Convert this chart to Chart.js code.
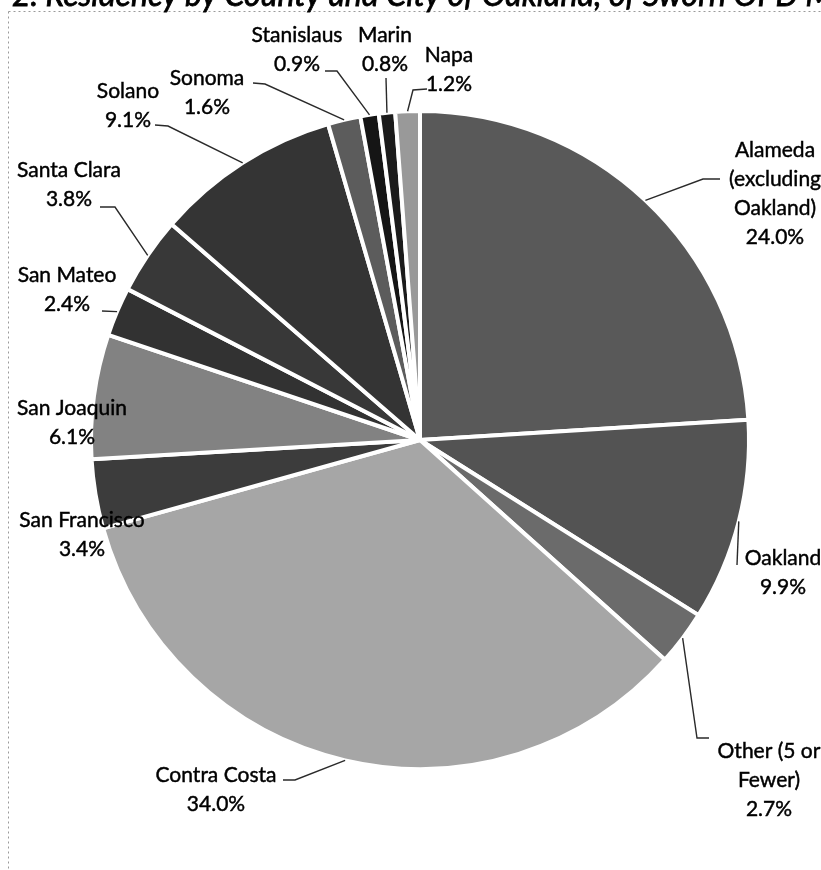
<!DOCTYPE html>
<html>
<head>
<meta charset="utf-8">
<script src="https://cdn.jsdelivr.net/npm/chart.js@4.4.1/dist/chart.umd.min.js"></script>
<style>
  html, body { margin: 0; padding: 0; background: #ffffff; }
  canvas { display: block; }
</style>
</head>
<body>
<canvas id="c" width="821" height="870"></canvas>
<script>
// ---- Data ----
const categories = [
  "Alameda (excluding Oakland)", "Oakland", "Other (5 or Fewer)", "Contra Costa",
  "San Francisco", "San Joaquin", "San Mateo", "Santa Clara", "Solano",
  "Sonoma", "Stanislaus", "Marin", "Napa"
];
const percentValues = [24.0, 9.9, 2.7, 34.0, 3.4, 6.1, 2.4, 3.8, 9.1, 1.6, 0.9, 0.8, 1.2];
const labelLines = [
  ["Alameda", "(excluding", "Oakland)"], ["Oakland"], ["Other (5 or", "Fewer)"], ["Contra Costa"],
  ["San Francisco"], ["San Joaquin"], ["San Mateo"], ["Santa Clara"], ["Solano"],
  ["Sonoma"], ["Stanislaus"], ["Marin"], ["Napa"]
];
const titleText = "2. Residency by County and City of Oakland, of Sworn OPD Members";

// ---- Styles / layout ----
const sliceColors = [
  "#595959", "#535353", "#6b6b6b", "#a6a6a6",
  "#3c3c3c", "#828282", "#323232", "#383838", "#343434",
  "#5c5c5c", "#151515", "#1b1b1b", "#999999"
];
// label text anchor (center x, first line center y)
const labelAnchors = [
  [775, 150], [783, 558], [769, 751], [216, 775],
  [82, 520], [72, 408], [67, 275], [69, 170], [128, 91],
  [207, 78], [297, 35], [385, 35], [449, 55]
];
// leader line points after the slice edge point
const leaderPaths = [
  [[703, 179], [720, 179]],
  [[737, 565]],
  [[697, 738], [709, 738]],
  [[295, 780], [283, 780]],
  [],
  [],
  [[102, 311]],
  [[115, 207], [100, 207]],
  [[168, 126], [155, 125]],
  [[265, 84], [253, 83]],
  [[337, 71], [325, 71]],
  [[386, 78]],
  [[413, 90], [427, 89]]
];
const LINE_H = 29;
const LABEL_FONT = "21px Lato, 'Open Sans', sans-serif";

const framePlugin = {
  id: "frame",
  beforeDraw(chart) {
    const ctx = chart.ctx;
    ctx.save();
    ctx.strokeStyle = "#9a9a9a";
    ctx.lineWidth = 1;
    ctx.setLineDash([2, 3]);
    ctx.beginPath();
    ctx.moveTo(8.5, 11.5); ctx.lineTo(821, 11.5);
    ctx.moveTo(8.5, 11.5); ctx.lineTo(8.5, 870);
    ctx.stroke();
    ctx.setLineDash([]);
    ctx.fillStyle = "#000";
    ctx.strokeStyle = "#000";
    ctx.lineWidth = 0.8;
    ctx.font = "italic 32px Lato, 'Open Sans', sans-serif";
    ctx.textAlign = "left";
    ctx.textBaseline = "alphabetic";
    ctx.fillText(titleText, 12, 6);
    ctx.strokeText(titleText, 12, 6);
    ctx.restore();
  }
};

const labelPlugin = {
  id: "outsideLabels",
  afterDraw(chart) {
    const ctx = chart.ctx;
    const meta = chart.getDatasetMeta(0);
    ctx.save();
    meta.data.forEach((arc, i) => {
      const p = arc.getProps(["x", "y", "startAngle", "endAngle", "outerRadius"], true);
      const mid = (p.startAngle + p.endAngle) / 2;
      const sx = p.x + Math.cos(mid) * p.outerRadius;
      const sy = p.y + Math.sin(mid) * p.outerRadius;
      const path = leaderPaths[i];
      if (path.length) {
        ctx.strokeStyle = "#2a2a2a";
        ctx.lineWidth = 1.4;
        ctx.beginPath();
        ctx.moveTo(sx, sy);
        path.forEach(pt => ctx.lineTo(pt[0], pt[1]));
        ctx.stroke();
      }
      const lines = labelLines[i].concat([percentValues[i].toFixed(1) + "%"]);
      ctx.fillStyle = "#000";
      ctx.strokeStyle = "#000";
      ctx.lineWidth = 0.45;
      ctx.font = LABEL_FONT;
      ctx.textAlign = "center";
      ctx.textBaseline = "middle";
      const [ax, ay] = labelAnchors[i];
      lines.forEach((t, k) => {
        ctx.fillText(t, ax, ay + k * LINE_H);
        ctx.strokeText(t, ax, ay + k * LINE_H);
      });
    });
    ctx.restore();
  }
};

new Chart(document.getElementById("c"), {
  type: "pie",
  data: {
    labels: categories,
    datasets: [{
      data: percentValues,
      backgroundColor: sliceColors,
      borderColor: "#ffffff",
      borderWidth: 4
    }]
  },
  options: {
    responsive: false,
    animation: false,
    radius: 329,
    rotation: 0,
    layout: { padding: { left: 78, right: 59, top: 90, bottom: 80 } },
    plugins: {
      legend: { display: false },
      tooltip: { enabled: false },
      title: { display: false }
    }
  },
  plugins: [framePlugin, labelPlugin]
});
</script>
</body>
</html>
